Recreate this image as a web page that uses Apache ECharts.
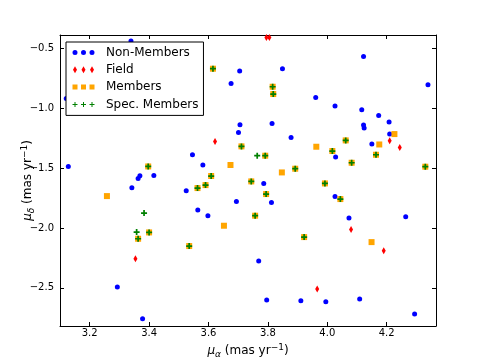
<!DOCTYPE html>
<html>
<head>
<meta charset="utf-8">
<script src="https://cdn.jsdelivr.net/npm/echarts@6/dist/echarts.min.js"></script>
<style>
  html, body { margin: 0; padding: 0; background: #fff; }
  #chart { width: 485px; height: 363px; }
</style>
</head>
<body>
<div id="chart"></div>
<script>
// proper motions: [mu_alpha, mu_delta]
const nonMembers = [
  [3.339, -0.436], [3.121, -0.916], [3.128, -1.485], [3.546, -1.387], [3.581, -1.473],
  [3.363, -1.585], [3.369, -1.563], [3.416, -1.560], [3.342, -1.663], [3.676, -0.790],
  [3.705, -0.687], [3.706, -1.136], [3.701, -1.200], [3.525, -1.688], [3.694, -1.778],
  [3.564, -1.850], [3.598, -1.897], [3.293, -2.494], [3.378, -2.759], [4.122, -0.564],
  [4.339, -0.801], [3.849, -0.667], [3.961, -0.907], [4.026, -0.980], [4.116, -1.010],
  [4.173, -1.058], [4.208, -1.114], [4.122, -1.139], [4.124, -1.164], [3.814, -1.125],
  [3.878, -1.242], [4.210, -1.214], [4.150, -1.298], [4.028, -1.406], [3.786, -1.627],
  [3.812, -1.786], [4.026, -1.736], [4.073, -1.917], [4.264, -1.906], [3.769, -2.277],
  [3.796, -2.603], [3.911, -2.609], [3.995, -2.617], [4.109, -2.595], [4.294, -2.720]
];
const field = [
  [3.795, -0.405], [3.805, -0.405], [3.622, -1.276], [4.210, -1.270], [4.244, -1.326],
  [4.080, -2.012], [4.190, -2.190], [3.966, -2.511], [3.354, -2.257]
];
const members = [
  [3.397, -1.485], [3.615, -0.667], [3.816, -0.818], [3.818, -0.879], [3.711, -1.317],
  [3.963, -1.320], [3.791, -1.395], [3.674, -1.473], [3.847, -1.535], [3.892, -1.504],
  [3.609, -1.565], [3.744, -1.610], [3.590, -1.641], [3.563, -1.666], [3.794, -1.716],
  [3.757, -1.897], [3.652, -1.981], [3.922, -2.076], [3.535, -2.151], [4.226, -1.214],
  [4.062, -1.267], [4.175, -1.301], [4.017, -1.356], [4.164, -1.387], [4.082, -1.454],
  [4.330, -1.487], [3.992, -1.627], [4.044, -1.758], [4.149, -2.118], [3.258, -1.733],
  [3.400, -2.037], [3.363, -2.090]
];
const specMembers = [
  [3.397, -1.485], [3.615, -0.667], [3.816, -0.818], [3.818, -0.879], [3.711, -1.317],
  [3.791, -1.395], [3.892, -1.504], [3.609, -1.565], [3.744, -1.610], [3.590, -1.641],
  [3.563, -1.666], [3.794, -1.716], [3.757, -1.897], [3.922, -2.076], [3.535, -2.151],
  [4.062, -1.267], [4.017, -1.356], [4.164, -1.387], [4.082, -1.454], [4.330, -1.487],
  [3.992, -1.627], [4.044, -1.758], [3.400, -2.037], [3.363, -2.090],
  [3.383, -1.875], [3.358, -2.034], [3.764, -1.395]
];
const seriesNames = ['Non-Members', 'Field', 'Members', 'Spec. Members'];
const xTicks = [3.2, 3.4, 3.6, 3.8, 4.0, 4.2];
const yTicks = [-2.5, -2.0, -1.5, -1.0, -0.5];
const xMin = 3.1, xMax = 4.366;
const yMin = -2.82, yMax = -0.385;

const font = 'DejaVu Sans';
const fmt = v => v.toFixed(1).replace('-', '\u2212');

// legend icons: three little markers like matplotlib's scatterpoints=3
// (the leading M points only fix the icon box to 29x14)
const box = 'M0,0M29,14';
const dot = cx => `M${cx - 2.5},7a2.5,2.5 0 1,0 5,0a2.5,2.5 0 1,0 -5,0Z`;
const dia = cx => `M${cx},3.5L${cx + 2},7L${cx},10.5L${cx - 2},7Z`;
const sq = cx => `M${cx - 2.5},4.5h5v5h-5Z`;
const pl = cx => `M${cx - 0.5},4.5h1v2h2v1h-2v2h-1v-2h-2v-1h2Z`;
const icon3 = f => 'path://' + box + [3, 11.5, 20].map(f).join('');

const richName = {
  mu: { fontFamily: font, fontSize: 12, fontStyle: 'italic', color: '#000', verticalAlign: 'middle' },
  sub: { fontFamily: font, fontSize: 9, fontStyle: 'italic', color: '#000', padding: [7, 0, 0, 0], verticalAlign: 'middle' },
  t: { fontFamily: font, fontSize: 12, color: '#000', verticalAlign: 'middle' },
  sup: { fontFamily: font, fontSize: 9, color: '#000', padding: [0, 0, 7, 0], verticalAlign: 'middle' }
};

const axisCommon = {
  type: 'value',
  axisLine: { show: true, onZero: false, lineStyle: { color: '#000', width: 1 } },
  splitLine: { show: false }
};

const chart = echarts.init(document.getElementById('chart'), null, { renderer: 'canvas' });
chart.setOption({
  animation: false,
  backgroundColor: '#fff',
  grid: { left: 60, right: 49, top: 35, bottom: 37, outerBoundsMode: 'none' },
  legend: {
    left: 66,
    top: 42,
    orient: 'vertical',
    backgroundColor: '#fff',
    borderColor: '#000',
    borderWidth: 1,
    borderRadius: 0,
    padding: [3.5, 5, 4, 6],
    itemWidth: 29,
    itemHeight: 14,
    itemGap: 3.3,
    selectedMode: false,
    textStyle: { fontFamily: font, fontSize: 12, color: '#000' },
    data: [
      { name: seriesNames[0], icon: icon3(dot) },
      { name: seriesNames[1], icon: icon3(dia) },
      { name: seriesNames[2], icon: icon3(sq) },
      { name: seriesNames[3], icon: icon3(pl) }
    ]
  },
  xAxis: [
    Object.assign({}, axisCommon, {
      min: xMin, max: xMax, position: 'bottom',
      axisTick: { show: true, inside: true, length: 4, customValues: xTicks, lineStyle: { color: '#000' } },
      axisLabel: { customValues: xTicks, formatter: fmt, fontFamily: font, fontSize: 10, color: '#000', margin: 2 },
      name: '{mu|μ}{sub|α}{t| (mas yr}{sup|−1}{t|)}',
      nameLocation: 'middle',
      nameGap: 17,
      nameMoveOverlap: false,
      nameTextStyle: { rich: richName }
    }),
    Object.assign({}, axisCommon, {
      min: xMin, max: xMax, position: 'top',
      axisTick: { show: true, inside: true, length: 4, customValues: xTicks, lineStyle: { color: '#000' } },
      axisLabel: { show: false }
    })
  ],
  yAxis: [
    Object.assign({}, axisCommon, {
      min: yMin, max: yMax, position: 'left',
      axisTick: { show: true, inside: true, length: 4, customValues: yTicks, lineStyle: { color: '#000' } },
      axisLabel: { customValues: yTicks, formatter: fmt, fontFamily: font, fontSize: 10, color: '#000', margin: 6 },
      name: '{mu|μ}{sub|δ}{t| (mas yr}{sup|−1}{t|)}',
      nameLocation: 'middle',
      nameRotate: 90,
      nameGap: 24,
      nameMoveOverlap: false,
      nameTextStyle: { rich: richName }
    }),
    Object.assign({}, axisCommon, {
      min: yMin, max: yMax, position: 'right',
      axisTick: { show: true, inside: true, length: 4, customValues: yTicks, lineStyle: { color: '#000' } },
      axisLabel: { show: false }
    })
  ],
  series: [
    {
      name: seriesNames[0], type: 'scatter', data: nonMembers,
      symbol: 'circle', symbolSize: 5,
      itemStyle: { color: '#0000ff', opacity: 1 }
    },
    {
      name: seriesNames[1], type: 'scatter', data: field,
      symbol: 'diamond', symbolSize: [4, 7],
      itemStyle: { color: '#ff0000', opacity: 1 }
    },
    {
      name: seriesNames[2], type: 'scatter', data: members,
      symbol: 'rect', symbolSize: 6,
      itemStyle: { color: '#ffa500', opacity: 1 }
    },
    {
      name: seriesNames[3], type: 'scatter', data: specMembers,
      symbol: 'path://M2.5,0h2v2.5h2.5v2h-2.5v2.5h-2v-2.5h-2.5v-2h2.5Z', symbolSize: 6,
      itemStyle: { color: '#008000', opacity: 1 }
    }
  ]
});
</script>
</body>
</html>
